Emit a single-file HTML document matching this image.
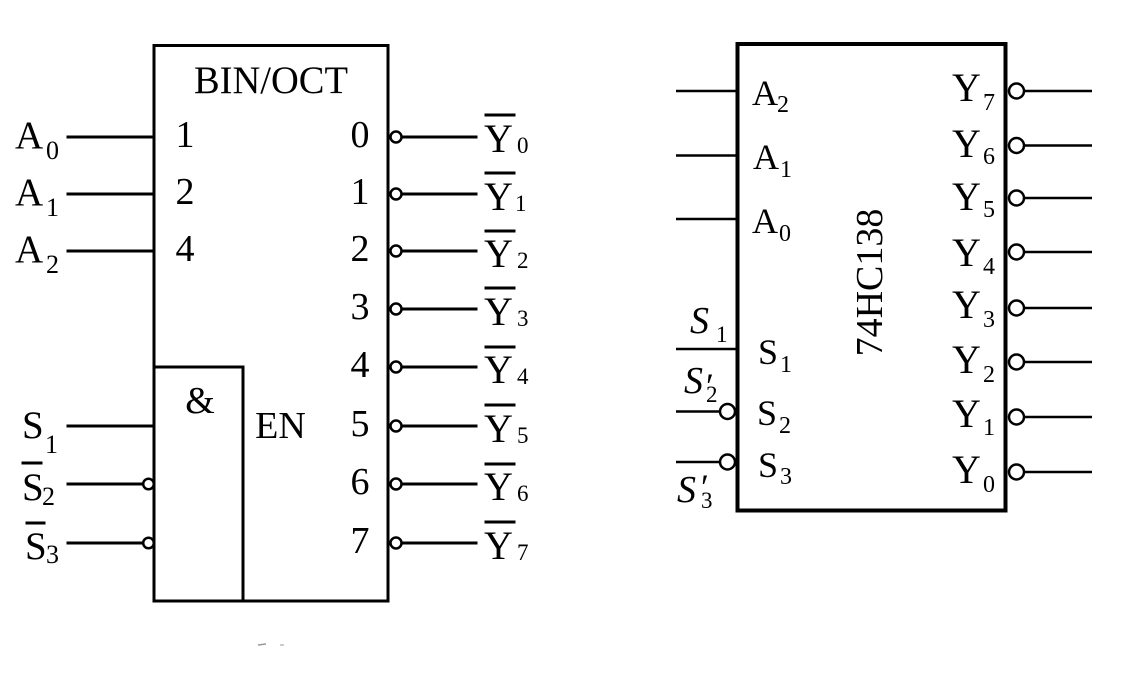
<!DOCTYPE html>
<html>
<head>
<meta charset="utf-8">
<style>
  html, body { margin:0; padding:0; background:#fff; }
  svg { display:block; }
  text { font-family: "Liberation Serif", "Times New Roman", serif; fill:#000; }
</style>
</head>
<body>
<svg width="1123" height="686" viewBox="0 0 1123 686" xmlns="http://www.w3.org/2000/svg">
  <rect width="1123" height="686" fill="#fff"/>

  <!-- ============ LEFT DIAGRAM ============ -->
  <g stroke="#000" stroke-width="3" fill="none" stroke-linecap="square">
    <rect x="154" y="45.5" width="234" height="555.5"/>
    <polyline points="154,367 243,367 243,601"/>
    <!-- inputs -->
    <line x1="68" y1="137" x2="154" y2="137"/>
    <line x1="68" y1="194" x2="154" y2="194"/>
    <line x1="68" y1="251" x2="154" y2="251"/>
    <line x1="68" y1="426" x2="154" y2="426"/>
    <line x1="68" y1="484" x2="143" y2="484"/>
    <line x1="68" y1="543" x2="143" y2="543"/>
    <!-- outputs -->
    <line x1="402" y1="137" x2="476" y2="137"/>
    <line x1="402" y1="194" x2="476" y2="194"/>
    <line x1="402" y1="251" x2="476" y2="251"/>
    <line x1="402" y1="309" x2="476" y2="309"/>
    <line x1="402" y1="367" x2="476" y2="367"/>
    <line x1="402" y1="426" x2="476" y2="426"/>
    <line x1="402" y1="484" x2="476" y2="484"/>
    <line x1="402" y1="543" x2="476" y2="543"/>
    <!-- overlines -->
    <line x1="486" y1="115" x2="514" y2="115"/>
    <line x1="486" y1="173" x2="514" y2="173"/>
    <line x1="486" y1="231" x2="514" y2="231"/>
    <line x1="486" y1="288" x2="514" y2="288"/>
    <line x1="486" y1="347" x2="514" y2="347"/>
    <line x1="486" y1="405" x2="514" y2="405"/>
    <line x1="486" y1="464" x2="514" y2="464"/>
    <line x1="486" y1="522" x2="514" y2="522"/>
    <line x1="23" y1="463" x2="41" y2="463"/>
    <line x1="27" y1="523" x2="44" y2="523"/>
  </g>
  <g stroke="#000" stroke-width="2.5" fill="#fff">
    <circle cx="148.5" cy="484" r="5.3"/>
    <circle cx="148.5" cy="543" r="5.3"/>
    <circle cx="396" cy="137" r="5.5"/>
    <circle cx="396" cy="194" r="5.5"/>
    <circle cx="396" cy="251" r="5.5"/>
    <circle cx="396" cy="309" r="5.5"/>
    <circle cx="396" cy="367" r="5.5"/>
    <circle cx="396" cy="426" r="5.5"/>
    <circle cx="396" cy="484" r="5.5"/>
    <circle cx="396" cy="543" r="5.5"/>
  </g>

  <text x="271" y="93" font-size="39" text-anchor="middle" textLength="154" lengthAdjust="spacingAndGlyphs">BIN/OCT</text>
  <g font-size="38" text-anchor="middle">
    <text x="185" y="147">1</text>
    <text x="185" y="204">2</text>
    <text x="185" y="261">4</text>
    <text x="360" y="147">0</text>
    <text x="360" y="204">1</text>
    <text x="360" y="261">2</text>
    <text x="360" y="319">3</text>
    <text x="360" y="377">4</text>
    <text x="360" y="436">5</text>
    <text x="360" y="494">6</text>
    <text x="360" y="553">7</text>
    <text x="200" y="413">&amp;</text>
    <text x="280.5" y="438">EN</text>
  </g>

  <!-- input labels -->
  <g font-size="39">
    <text x="15" y="148">A</text>
    <text x="15" y="205">A</text>
    <text x="15" y="262">A</text>
    <text x="22" y="438">S</text>
    <text x="22" y="500">S</text>
    <text x="25" y="559">S</text>
  </g>
  <g font-size="26">
    <text x="46" y="159">0</text>
    <text x="46" y="216">1</text>
    <text x="46" y="273">2</text>
    <text x="45" y="453">1</text>
    <text x="42" y="505">2</text>
    <text x="46" y="563">3</text>
  </g>

  <!-- output labels -->
  <g font-size="40">
    <text x="484" y="152">Y</text>
    <text x="484" y="210">Y</text>
    <text x="484" y="267">Y</text>
    <text x="484" y="325">Y</text>
    <text x="484" y="383">Y</text>
    <text x="484" y="442">Y</text>
    <text x="484" y="500">Y</text>
    <text x="484" y="559">Y</text>
  </g>
  <g font-size="23">
    <text x="517" y="153">0</text>
    <text x="515" y="211">1</text>
    <text x="517" y="268">2</text>
    <text x="517" y="326">3</text>
    <text x="517" y="384">4</text>
    <text x="517" y="443">5</text>
    <text x="517" y="501">6</text>
    <text x="517" y="560">7</text>
  </g>

  <!-- tiny caption remnant -->
  <line x1="258" y1="645" x2="266" y2="644" stroke="#999" stroke-width="1.5"/>
  <line x1="280" y1="645" x2="284" y2="645" stroke="#bbb" stroke-width="1.5"/>

  <!-- ============ RIGHT DIAGRAM ============ -->
  <rect x="737.5" y="44" width="268" height="466.5" stroke="#000" stroke-width="4" fill="none"/>
  <g stroke="#000" stroke-width="2.5" fill="none">
    <line x1="676" y1="91" x2="737" y2="91"/>
    <line x1="676" y1="155.5" x2="737" y2="155.5"/>
    <line x1="676" y1="219" x2="737" y2="219"/>
    <line x1="676" y1="349" x2="737" y2="349"/>
    <line x1="676" y1="411.5" x2="720" y2="411.5"/>
    <line x1="676" y1="462" x2="720" y2="462"/>
    <line x1="1024" y1="91" x2="1092" y2="91"/>
    <line x1="1024" y1="145.5" x2="1092" y2="145.5"/>
    <line x1="1024" y1="198" x2="1092" y2="198"/>
    <line x1="1024" y1="252" x2="1092" y2="252"/>
    <line x1="1024" y1="308" x2="1092" y2="308"/>
    <line x1="1024" y1="362" x2="1092" y2="362"/>
    <line x1="1024" y1="417" x2="1092" y2="417"/>
    <line x1="1024" y1="472" x2="1092" y2="472"/>
  </g>
  <g stroke="#000" stroke-width="2.5" fill="#fff">
    <circle cx="727.5" cy="411.5" r="7.5"/>
    <circle cx="727.5" cy="462" r="7.5"/>
    <circle cx="1016.5" cy="91" r="7.5"/>
    <circle cx="1016.5" cy="145.5" r="7.5"/>
    <circle cx="1016.5" cy="198" r="7.5"/>
    <circle cx="1016.5" cy="252" r="7.5"/>
    <circle cx="1016.5" cy="308" r="7.5"/>
    <circle cx="1016.5" cy="362" r="7.5"/>
    <circle cx="1016.5" cy="417" r="7.5"/>
    <circle cx="1016.5" cy="472" r="7.5"/>
  </g>

  <text transform="translate(882,282.5) rotate(-90)" font-size="38" text-anchor="middle">74HC138</text>

  <g font-size="36">
    <text x="752" y="105">A</text>
    <text x="753" y="169">A</text>
    <text x="752" y="233">A</text>
    <text x="758" y="364">S</text>
    <text x="757" y="425">S</text>
    <text x="758" y="477">S</text>
  </g>
  <g font-size="24">
    <text x="777" y="112">2</text>
    <text x="780" y="177">1</text>
    <text x="779" y="241">0</text>
    <text x="780" y="372">1</text>
    <text x="779" y="433">2</text>
    <text x="780" y="484">3</text>
  </g>

  <g font-size="38" font-style="italic">
    <text x="690" y="333">S</text>
    <text x="684" y="393">S</text>
    <text x="677" y="502">S</text>
  </g>
  <g font-size="23">
    <text x="716" y="342">1</text>
    <text x="706" y="402">2</text>
    <text x="701" y="508">3</text>
  </g>
  <g font-size="36">
    <text x="706" y="398">′</text>
    <text x="701" y="499">′</text>
  </g>

  <g font-size="40">
    <text x="952" y="101">Y</text>
    <text x="952" y="157">Y</text>
    <text x="952" y="210">Y</text>
    <text x="952" y="266">Y</text>
    <text x="952" y="318">Y</text>
    <text x="952" y="373">Y</text>
    <text x="952" y="427">Y</text>
    <text x="952" y="483">Y</text>
  </g>
  <g font-size="24">
    <text x="983" y="110">7</text>
    <text x="983" y="164">6</text>
    <text x="983" y="217">5</text>
    <text x="983" y="274">4</text>
    <text x="983" y="327">3</text>
    <text x="983" y="382">2</text>
    <text x="983" y="435">1</text>
    <text x="983" y="492">0</text>
  </g>
</svg>
</body>
</html>
